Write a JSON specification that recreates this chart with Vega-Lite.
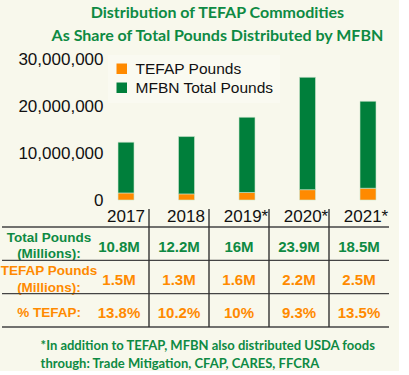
{
  "$schema": "https://vega.github.io/schema/vega-lite/v6.json",
  "background": "#F8F8EC",
  "padding": {"left": 0, "top": 5, "right": 0, "bottom": 0},
  "title": {
    "text": ["Distribution of TEFAP Commodities", "As Share of Total Pounds Distributed by MFBN"],
    "font": "Lato",
    "fontSize": 16,
    "fontWeight": "bold",
    "color": "#0E8A43",
    "lineHeight": 23,
    "anchor": "middle",
    "dx": 18,
    "offset": 6
  },
  "config": {"view": {"stroke": null}, "font": "Liberation Sans"},
  "spacing": 0,
  "resolve": {
    "scale": {"x": "independent", "y": "independent", "color": "independent"},
    "axis": {"x": "independent", "y": "independent"},
    "legend": {"color": "independent"}
  },
  "datasets": {
    "bars": [
      {"year": "2017", "series": "TEFAP Pounds", "pounds": 1500000},
      {"year": "2017", "series": "MFBN Total Pounds", "pounds": 10800000},
      {"year": "2018", "series": "TEFAP Pounds", "pounds": 1300000},
      {"year": "2018", "series": "MFBN Total Pounds", "pounds": 12200000},
      {"year": "2019*", "series": "TEFAP Pounds", "pounds": 1600000},
      {"year": "2019*", "series": "MFBN Total Pounds", "pounds": 16000000},
      {"year": "2020*", "series": "TEFAP Pounds", "pounds": 2200000},
      {"year": "2020*", "series": "MFBN Total Pounds", "pounds": 23900000},
      {"year": "2021*", "series": "TEFAP Pounds", "pounds": 2500000},
      {"year": "2021*", "series": "MFBN Total Pounds", "pounds": 18500000}
    ],
    "table": [
      {"row": "total", "year": "2017", "text": "10.8M"},
      {"row": "total", "year": "2018", "text": "12.2M"},
      {"row": "total", "year": "2019*", "text": "16M"},
      {"row": "total", "year": "2020*", "text": "23.9M"},
      {"row": "total", "year": "2021*", "text": "18.5M"},
      {"row": "tefap", "year": "2017", "text": "1.5M"},
      {"row": "tefap", "year": "2018", "text": "1.3M"},
      {"row": "tefap", "year": "2019*", "text": "1.6M"},
      {"row": "tefap", "year": "2020*", "text": "2.2M"},
      {"row": "tefap", "year": "2021*", "text": "2.5M"},
      {"row": "pct", "year": "2017", "text": "13.8%"},
      {"row": "pct", "year": "2018", "text": "10.2%"},
      {"row": "pct", "year": "2019*", "text": "10%"},
      {"row": "pct", "year": "2020*", "text": "9.3%"},
      {"row": "pct", "year": "2021*", "text": "13.5%"}
    ],
    "rows": [
      {"row": "total", "label": "Total Pounds\n(Millions):"},
      {"row": "tefap", "label": "TEFAP Pounds\n(Millions):"},
      {"row": "pct", "label": "% TEFAP:"}
    ],
    "years": [{"year": "2017"}, {"year": "2018"}, {"year": "2019*"}, {"year": "2020*"}, {"year": "2021*"}],
    "separators": [{"year": "2018"}, {"year": "2019*"}, {"year": "2020*"}, {"year": "2021*"}]
  },
  "vconcat": [
    {
      "width": 396.25,
      "height": 141,
      "data": {"name": "bars"},
      "mark": {"type": "bar", "width": 16, "stroke": "#CFE6CF", "strokeWidth": 0.6},
      "encoding": {
        "x": {
          "field": "year", "type": "ordinal",
          "scale": {"paddingInner": 0, "paddingOuter": 0.775, "align": 1},
          "axis": null
        },
        "y": {
          "field": "pounds", "type": "quantitative", "aggregate": "sum", "stack": "zero",
          "scale": {"domain": [0, 30000000], "nice": false},
          "axis": {
            "title": null, "values": [0, 10000000, 20000000, 30000000], "format": ",.0f",
            "grid": false, "domain": false, "ticks": false, "tickSize": 0,
            "labelFontSize": 17, "labelColor": "#111111", "labelPadding": -101, "labelAlign": "right",
            "minExtent": 0, "maxExtent": 0
          }
        },
        "color": {
          "field": "series", "type": "nominal",
          "sort": ["TEFAP Pounds", "MFBN Total Pounds"],
          "scale": {"domain": ["TEFAP Pounds", "MFBN Total Pounds"], "range": ["#FF8A00", "#007F3B"]},
          "legend": {
            "title": null, "orient": "none", "legendX": 106, "legendY": -4,
            "fillColor": "#FAFAF1", "padding": 6, "symbolType": "square", "symbolSize": 110,
            "symbolStrokeWidth": 0, "labelFontSize": 15.5, "labelColor": "#111111",
            "labelOffset": 6, "rowPadding": 2
          }
        },
        "order": {"field": "series", "sort": "descending"}
      }
    },
    {
      "width": 387,
      "height": 118,
      "title": {
        "text": ["*In addition to TEFAP, MFBN also distributed USDA foods", "through: Trade Mitigation, CFAP, CARES, FFCRA"],
        "orient": "bottom", "anchor": "start", "frame": "bounds", "dx": 40, "offset": 12,
        "font": "Lato", "fontSize": 13, "fontWeight": "bold",
        "color": "#0E8A43", "lineHeight": 18, "align": "left"
      },
      "layer": [
        {
          "data": {"name": "table"},
          "mark": {"type": "text", "fontSize": 15, "fontWeight": "bold", "dy": 3},
          "encoding": {
            "x": {
              "field": "year", "type": "ordinal",
              "scale": {"domain": ["label", "2017", "2018", "2019*", "2020*", "2021*"], "paddingInner": 0, "paddingOuter": 0.225, "align": 1},
              "axis": null
            },
            "y": {
              "field": "row", "type": "nominal",
              "scale": {"domain": ["total", "tefap", "pct"], "paddingInner": 0, "paddingOuter": 0.27, "align": 1},
              "axis": null
            },
            "text": {"field": "text"},
            "color": {
              "field": "row", "type": "nominal",
              "scale": {"domain": ["total", "tefap", "pct"], "range": ["#0E8A43", "#FF8A00", "#FF8A00"]},
              "legend": null
            }
          }
        },
        {
          "data": {"name": "rows"},
          "transform": [{"filter": "datum.row != 'pct'"}],
          "mark": {"type": "text", "fontSize": 13.5, "fontWeight": "bold", "lineBreak": "\n", "lineHeight": 16.5, "dx": -10, "dy": -6},
          "encoding": {
            "x": {"datum": "label", "type": "ordinal"},
            "y": {"field": "row", "type": "nominal"},
            "text": {"field": "label"},
            "color": {"field": "row", "type": "nominal"}
          }
        },
        {
          "data": {"name": "rows"},
          "transform": [{"filter": "datum.row == 'pct'"}],
          "mark": {"type": "text", "fontSize": 13.5, "fontWeight": "bold", "dx": -10, "dy": 3},
          "encoding": {
            "x": {"datum": "label", "type": "ordinal"},
            "y": {"field": "row", "type": "nominal"},
            "text": {"field": "label"},
            "color": {"field": "row", "type": "nominal"}
          }
        },
        {
          "data": {"name": "years"},
          "mark": {"type": "text", "fontSize": 17, "color": "#111111", "dx": 7, "dy": -26.5},
          "encoding": {
            "x": {"field": "year", "type": "ordinal"},
            "y": {"datum": "total", "type": "nominal"},
            "text": {"field": "year"}
          }
        },
        {
          "data": {"name": "rows"},
          "mark": {"type": "rule", "color": "#444444", "strokeWidth": 1.4},
          "encoding": {
            "y": {"field": "row", "type": "nominal", "bandPosition": 0}
          }
        },
        {
          "data": {"values": [{"row": "pct"}]},
          "mark": {"type": "rule", "color": "#444444", "strokeWidth": 1.4},
          "encoding": {
            "y": {"field": "row", "type": "nominal", "bandPosition": 1}
          }
        },
        {
          "data": {"name": "separators"},
          "mark": {"type": "rule", "color": "#333333", "strokeWidth": 1.4},
          "encoding": {
            "x": {"field": "year", "type": "ordinal", "bandPosition": 0}
          }
        }
      ]
    }
  ]
}
